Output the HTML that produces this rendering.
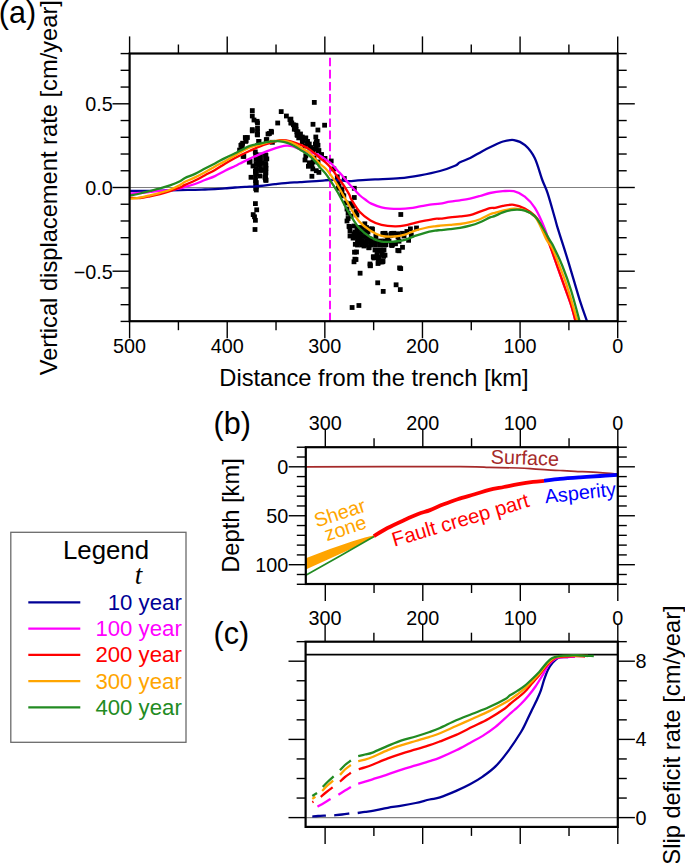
<!DOCTYPE html><html><head><meta charset="utf-8"><style>html,body{margin:0;padding:0;background:#fff;width:685px;height:863px;overflow:hidden}</style></head><body><svg width="685" height="863" viewBox="0 0 685 863" style="position:absolute;left:0;top:0" font-family='"Liberation Sans", sans-serif'>
<rect width="685" height="863" fill="#fff"/>
<defs><clipPath id="clipA"><rect x="129.6" y="53.5" width="488.10" height="267.70"/></clipPath><clipPath id="clipB"><rect x="305.8" y="447.2" width="312.00" height="136.80"/></clipPath><clipPath id="clipC"><rect x="305.6" y="641.7" width="312.20" height="185.20"/></clipPath></defs>
<line x1="129.60" y1="187.50" x2="617.70" y2="187.50" stroke="#7f7f7f" stroke-width="1.2" />
<line x1="617.70" y1="53.50" x2="617.70" y2="36.40" stroke="#000" stroke-width="1.4" />
<line x1="617.70" y1="321.20" x2="617.70" y2="338.30" stroke="#000" stroke-width="1.4" />
<text x="617.70" y="353.30" font-size="19.8" text-anchor="middle" fill="#000" >0</text>
<line x1="568.89" y1="53.50" x2="568.89" y2="44.50" stroke="#000" stroke-width="1.4" />
<line x1="568.89" y1="321.20" x2="568.89" y2="330.20" stroke="#000" stroke-width="1.4" />
<line x1="520.08" y1="53.50" x2="520.08" y2="36.40" stroke="#000" stroke-width="1.4" />
<line x1="520.08" y1="321.20" x2="520.08" y2="338.30" stroke="#000" stroke-width="1.4" />
<text x="520.08" y="353.30" font-size="19.8" text-anchor="middle" fill="#000" >100</text>
<line x1="471.27" y1="53.50" x2="471.27" y2="44.50" stroke="#000" stroke-width="1.4" />
<line x1="471.27" y1="321.20" x2="471.27" y2="330.20" stroke="#000" stroke-width="1.4" />
<line x1="422.46" y1="53.50" x2="422.46" y2="36.40" stroke="#000" stroke-width="1.4" />
<line x1="422.46" y1="321.20" x2="422.46" y2="338.30" stroke="#000" stroke-width="1.4" />
<text x="422.46" y="353.30" font-size="19.8" text-anchor="middle" fill="#000" >200</text>
<line x1="373.65" y1="53.50" x2="373.65" y2="44.50" stroke="#000" stroke-width="1.4" />
<line x1="373.65" y1="321.20" x2="373.65" y2="330.20" stroke="#000" stroke-width="1.4" />
<line x1="324.84" y1="53.50" x2="324.84" y2="36.40" stroke="#000" stroke-width="1.4" />
<line x1="324.84" y1="321.20" x2="324.84" y2="338.30" stroke="#000" stroke-width="1.4" />
<text x="324.84" y="353.30" font-size="19.8" text-anchor="middle" fill="#000" >300</text>
<line x1="276.03" y1="53.50" x2="276.03" y2="44.50" stroke="#000" stroke-width="1.4" />
<line x1="276.03" y1="321.20" x2="276.03" y2="330.20" stroke="#000" stroke-width="1.4" />
<line x1="227.22" y1="53.50" x2="227.22" y2="36.40" stroke="#000" stroke-width="1.4" />
<line x1="227.22" y1="321.20" x2="227.22" y2="338.30" stroke="#000" stroke-width="1.4" />
<text x="227.22" y="353.30" font-size="19.8" text-anchor="middle" fill="#000" >400</text>
<line x1="178.41" y1="53.50" x2="178.41" y2="44.50" stroke="#000" stroke-width="1.4" />
<line x1="178.41" y1="321.20" x2="178.41" y2="330.20" stroke="#000" stroke-width="1.4" />
<line x1="129.60" y1="53.50" x2="129.60" y2="36.40" stroke="#000" stroke-width="1.4" />
<line x1="129.60" y1="321.20" x2="129.60" y2="338.30" stroke="#000" stroke-width="1.4" />
<text x="129.60" y="353.30" font-size="19.8" text-anchor="middle" fill="#000" >500</text>
<line x1="129.60" y1="321.42" x2="120.60" y2="321.42" stroke="#000" stroke-width="1.4" />
<line x1="617.70" y1="321.42" x2="626.70" y2="321.42" stroke="#000" stroke-width="1.4" />
<line x1="129.60" y1="304.68" x2="120.60" y2="304.68" stroke="#000" stroke-width="1.4" />
<line x1="617.70" y1="304.68" x2="626.70" y2="304.68" stroke="#000" stroke-width="1.4" />
<line x1="129.60" y1="287.94" x2="120.60" y2="287.94" stroke="#000" stroke-width="1.4" />
<line x1="617.70" y1="287.94" x2="626.70" y2="287.94" stroke="#000" stroke-width="1.4" />
<line x1="129.60" y1="271.20" x2="112.50" y2="271.20" stroke="#000" stroke-width="1.4" />
<line x1="617.70" y1="271.20" x2="634.80" y2="271.20" stroke="#000" stroke-width="1.4" />
<text x="112.70" y="278.60" font-size="19.8" text-anchor="end" fill="#000" >−0.5</text>
<line x1="129.60" y1="254.46" x2="120.60" y2="254.46" stroke="#000" stroke-width="1.4" />
<line x1="617.70" y1="254.46" x2="626.70" y2="254.46" stroke="#000" stroke-width="1.4" />
<line x1="129.60" y1="237.72" x2="120.60" y2="237.72" stroke="#000" stroke-width="1.4" />
<line x1="617.70" y1="237.72" x2="626.70" y2="237.72" stroke="#000" stroke-width="1.4" />
<line x1="129.60" y1="220.98" x2="120.60" y2="220.98" stroke="#000" stroke-width="1.4" />
<line x1="617.70" y1="220.98" x2="626.70" y2="220.98" stroke="#000" stroke-width="1.4" />
<line x1="129.60" y1="204.24" x2="120.60" y2="204.24" stroke="#000" stroke-width="1.4" />
<line x1="617.70" y1="204.24" x2="626.70" y2="204.24" stroke="#000" stroke-width="1.4" />
<line x1="129.60" y1="187.50" x2="112.50" y2="187.50" stroke="#000" stroke-width="1.4" />
<line x1="617.70" y1="187.50" x2="634.80" y2="187.50" stroke="#000" stroke-width="1.4" />
<text x="112.70" y="194.90" font-size="19.8" text-anchor="end" fill="#000" >0.0</text>
<line x1="129.60" y1="170.76" x2="120.60" y2="170.76" stroke="#000" stroke-width="1.4" />
<line x1="617.70" y1="170.76" x2="626.70" y2="170.76" stroke="#000" stroke-width="1.4" />
<line x1="129.60" y1="154.02" x2="120.60" y2="154.02" stroke="#000" stroke-width="1.4" />
<line x1="617.70" y1="154.02" x2="626.70" y2="154.02" stroke="#000" stroke-width="1.4" />
<line x1="129.60" y1="137.28" x2="120.60" y2="137.28" stroke="#000" stroke-width="1.4" />
<line x1="617.70" y1="137.28" x2="626.70" y2="137.28" stroke="#000" stroke-width="1.4" />
<line x1="129.60" y1="120.54" x2="120.60" y2="120.54" stroke="#000" stroke-width="1.4" />
<line x1="617.70" y1="120.54" x2="626.70" y2="120.54" stroke="#000" stroke-width="1.4" />
<line x1="129.60" y1="103.80" x2="112.50" y2="103.80" stroke="#000" stroke-width="1.4" />
<line x1="617.70" y1="103.80" x2="634.80" y2="103.80" stroke="#000" stroke-width="1.4" />
<text x="112.70" y="111.20" font-size="19.8" text-anchor="end" fill="#000" >0.5</text>
<line x1="129.60" y1="87.06" x2="120.60" y2="87.06" stroke="#000" stroke-width="1.4" />
<line x1="617.70" y1="87.06" x2="626.70" y2="87.06" stroke="#000" stroke-width="1.4" />
<line x1="129.60" y1="70.32" x2="120.60" y2="70.32" stroke="#000" stroke-width="1.4" />
<line x1="617.70" y1="70.32" x2="626.70" y2="70.32" stroke="#000" stroke-width="1.4" />
<line x1="129.60" y1="53.58" x2="120.60" y2="53.58" stroke="#000" stroke-width="1.4" />
<line x1="617.70" y1="53.58" x2="626.70" y2="53.58" stroke="#000" stroke-width="1.4" />
<line x1="617.80" y1="447.20" x2="617.80" y2="430.10" stroke="#000" stroke-width="1.4" />
<line x1="617.80" y1="584.00" x2="617.80" y2="601.10" stroke="#000" stroke-width="1.4" />
<text x="617.80" y="430.10" font-size="19.8" text-anchor="middle" fill="#000" >0</text>
<line x1="569.05" y1="447.20" x2="569.05" y2="438.20" stroke="#000" stroke-width="1.4" />
<line x1="569.05" y1="584.00" x2="569.05" y2="593.00" stroke="#000" stroke-width="1.4" />
<line x1="520.30" y1="447.20" x2="520.30" y2="430.10" stroke="#000" stroke-width="1.4" />
<line x1="520.30" y1="584.00" x2="520.30" y2="601.10" stroke="#000" stroke-width="1.4" />
<text x="520.30" y="430.10" font-size="19.8" text-anchor="middle" fill="#000" >100</text>
<line x1="471.55" y1="447.20" x2="471.55" y2="438.20" stroke="#000" stroke-width="1.4" />
<line x1="471.55" y1="584.00" x2="471.55" y2="593.00" stroke="#000" stroke-width="1.4" />
<line x1="422.80" y1="447.20" x2="422.80" y2="430.10" stroke="#000" stroke-width="1.4" />
<line x1="422.80" y1="584.00" x2="422.80" y2="601.10" stroke="#000" stroke-width="1.4" />
<text x="422.80" y="430.10" font-size="19.8" text-anchor="middle" fill="#000" >200</text>
<line x1="374.05" y1="447.20" x2="374.05" y2="438.20" stroke="#000" stroke-width="1.4" />
<line x1="374.05" y1="584.00" x2="374.05" y2="593.00" stroke="#000" stroke-width="1.4" />
<line x1="325.30" y1="447.20" x2="325.30" y2="430.10" stroke="#000" stroke-width="1.4" />
<line x1="325.30" y1="584.00" x2="325.30" y2="601.10" stroke="#000" stroke-width="1.4" />
<text x="325.30" y="430.10" font-size="19.8" text-anchor="middle" fill="#000" >300</text>
<line x1="305.80" y1="447.22" x2="296.80" y2="447.22" stroke="#000" stroke-width="1.4" />
<line x1="617.80" y1="447.22" x2="626.80" y2="447.22" stroke="#000" stroke-width="1.4" />
<line x1="305.80" y1="457.01" x2="296.80" y2="457.01" stroke="#000" stroke-width="1.4" />
<line x1="617.80" y1="457.01" x2="626.80" y2="457.01" stroke="#000" stroke-width="1.4" />
<line x1="305.80" y1="466.80" x2="288.70" y2="466.80" stroke="#000" stroke-width="1.4" />
<line x1="617.80" y1="466.80" x2="634.90" y2="466.80" stroke="#000" stroke-width="1.4" />
<text x="288.20" y="473.80" font-size="19.8" text-anchor="end" fill="#000" >0</text>
<line x1="305.80" y1="476.59" x2="296.80" y2="476.59" stroke="#000" stroke-width="1.4" />
<line x1="617.80" y1="476.59" x2="626.80" y2="476.59" stroke="#000" stroke-width="1.4" />
<line x1="305.80" y1="486.38" x2="296.80" y2="486.38" stroke="#000" stroke-width="1.4" />
<line x1="617.80" y1="486.38" x2="626.80" y2="486.38" stroke="#000" stroke-width="1.4" />
<line x1="305.80" y1="496.17" x2="296.80" y2="496.17" stroke="#000" stroke-width="1.4" />
<line x1="617.80" y1="496.17" x2="626.80" y2="496.17" stroke="#000" stroke-width="1.4" />
<line x1="305.80" y1="505.96" x2="296.80" y2="505.96" stroke="#000" stroke-width="1.4" />
<line x1="617.80" y1="505.96" x2="626.80" y2="505.96" stroke="#000" stroke-width="1.4" />
<line x1="305.80" y1="515.75" x2="288.70" y2="515.75" stroke="#000" stroke-width="1.4" />
<line x1="617.80" y1="515.75" x2="634.90" y2="515.75" stroke="#000" stroke-width="1.4" />
<text x="288.20" y="522.75" font-size="19.8" text-anchor="end" fill="#000" >50</text>
<line x1="305.80" y1="525.54" x2="296.80" y2="525.54" stroke="#000" stroke-width="1.4" />
<line x1="617.80" y1="525.54" x2="626.80" y2="525.54" stroke="#000" stroke-width="1.4" />
<line x1="305.80" y1="535.33" x2="296.80" y2="535.33" stroke="#000" stroke-width="1.4" />
<line x1="617.80" y1="535.33" x2="626.80" y2="535.33" stroke="#000" stroke-width="1.4" />
<line x1="305.80" y1="545.12" x2="296.80" y2="545.12" stroke="#000" stroke-width="1.4" />
<line x1="617.80" y1="545.12" x2="626.80" y2="545.12" stroke="#000" stroke-width="1.4" />
<line x1="305.80" y1="554.91" x2="296.80" y2="554.91" stroke="#000" stroke-width="1.4" />
<line x1="617.80" y1="554.91" x2="626.80" y2="554.91" stroke="#000" stroke-width="1.4" />
<line x1="305.80" y1="564.70" x2="288.70" y2="564.70" stroke="#000" stroke-width="1.4" />
<line x1="617.80" y1="564.70" x2="634.90" y2="564.70" stroke="#000" stroke-width="1.4" />
<text x="288.20" y="571.70" font-size="19.8" text-anchor="end" fill="#000" >100</text>
<line x1="305.80" y1="574.49" x2="296.80" y2="574.49" stroke="#000" stroke-width="1.4" />
<line x1="617.80" y1="574.49" x2="626.80" y2="574.49" stroke="#000" stroke-width="1.4" />
<line x1="305.80" y1="584.28" x2="296.80" y2="584.28" stroke="#000" stroke-width="1.4" />
<line x1="617.80" y1="584.28" x2="626.80" y2="584.28" stroke="#000" stroke-width="1.4" />
<line x1="617.80" y1="641.70" x2="617.80" y2="624.60" stroke="#000" stroke-width="1.4" />
<line x1="617.80" y1="826.90" x2="617.80" y2="844.00" stroke="#000" stroke-width="1.4" />
<text x="617.80" y="624.60" font-size="19.8" text-anchor="middle" fill="#000" >0</text>
<line x1="569.02" y1="641.70" x2="569.02" y2="632.70" stroke="#000" stroke-width="1.4" />
<line x1="569.02" y1="826.90" x2="569.02" y2="835.90" stroke="#000" stroke-width="1.4" />
<line x1="520.24" y1="641.70" x2="520.24" y2="624.60" stroke="#000" stroke-width="1.4" />
<line x1="520.24" y1="826.90" x2="520.24" y2="844.00" stroke="#000" stroke-width="1.4" />
<text x="520.24" y="624.60" font-size="19.8" text-anchor="middle" fill="#000" >100</text>
<line x1="471.46" y1="641.70" x2="471.46" y2="632.70" stroke="#000" stroke-width="1.4" />
<line x1="471.46" y1="826.90" x2="471.46" y2="835.90" stroke="#000" stroke-width="1.4" />
<line x1="422.68" y1="641.70" x2="422.68" y2="624.60" stroke="#000" stroke-width="1.4" />
<line x1="422.68" y1="826.90" x2="422.68" y2="844.00" stroke="#000" stroke-width="1.4" />
<text x="422.68" y="624.60" font-size="19.8" text-anchor="middle" fill="#000" >200</text>
<line x1="373.89" y1="641.70" x2="373.89" y2="632.70" stroke="#000" stroke-width="1.4" />
<line x1="373.89" y1="826.90" x2="373.89" y2="835.90" stroke="#000" stroke-width="1.4" />
<line x1="325.11" y1="641.70" x2="325.11" y2="624.60" stroke="#000" stroke-width="1.4" />
<line x1="325.11" y1="826.90" x2="325.11" y2="844.00" stroke="#000" stroke-width="1.4" />
<text x="325.11" y="624.60" font-size="19.8" text-anchor="middle" fill="#000" >300</text>
<line x1="305.60" y1="817.60" x2="288.50" y2="817.60" stroke="#000" stroke-width="1.4" />
<line x1="617.80" y1="817.60" x2="634.90" y2="817.60" stroke="#000" stroke-width="1.4" />
<text x="635.40" y="824.60" font-size="19.8" text-anchor="start" fill="#000" >0</text>
<line x1="305.60" y1="798.05" x2="296.60" y2="798.05" stroke="#000" stroke-width="1.4" />
<line x1="617.80" y1="798.05" x2="626.80" y2="798.05" stroke="#000" stroke-width="1.4" />
<line x1="305.60" y1="778.50" x2="296.60" y2="778.50" stroke="#000" stroke-width="1.4" />
<line x1="617.80" y1="778.50" x2="626.80" y2="778.50" stroke="#000" stroke-width="1.4" />
<line x1="305.60" y1="758.95" x2="296.60" y2="758.95" stroke="#000" stroke-width="1.4" />
<line x1="617.80" y1="758.95" x2="626.80" y2="758.95" stroke="#000" stroke-width="1.4" />
<line x1="305.60" y1="739.40" x2="288.50" y2="739.40" stroke="#000" stroke-width="1.4" />
<line x1="617.80" y1="739.40" x2="634.90" y2="739.40" stroke="#000" stroke-width="1.4" />
<text x="635.40" y="746.40" font-size="19.8" text-anchor="start" fill="#000" >4</text>
<line x1="305.60" y1="719.85" x2="296.60" y2="719.85" stroke="#000" stroke-width="1.4" />
<line x1="617.80" y1="719.85" x2="626.80" y2="719.85" stroke="#000" stroke-width="1.4" />
<line x1="305.60" y1="700.30" x2="296.60" y2="700.30" stroke="#000" stroke-width="1.4" />
<line x1="617.80" y1="700.30" x2="626.80" y2="700.30" stroke="#000" stroke-width="1.4" />
<line x1="305.60" y1="680.75" x2="296.60" y2="680.75" stroke="#000" stroke-width="1.4" />
<line x1="617.80" y1="680.75" x2="626.80" y2="680.75" stroke="#000" stroke-width="1.4" />
<line x1="305.60" y1="661.20" x2="288.50" y2="661.20" stroke="#000" stroke-width="1.4" />
<line x1="617.80" y1="661.20" x2="634.90" y2="661.20" stroke="#000" stroke-width="1.4" />
<text x="635.40" y="668.20" font-size="19.8" text-anchor="start" fill="#000" >8</text>
<line x1="305.60" y1="641.65" x2="296.60" y2="641.65" stroke="#000" stroke-width="1.4" />
<line x1="617.80" y1="641.65" x2="626.80" y2="641.65" stroke="#000" stroke-width="1.4" />
<line x1="305.60" y1="817.60" x2="617.80" y2="817.60" stroke="#7f7f7f" stroke-width="1.2" />
<line x1="305.60" y1="654.60" x2="617.80" y2="654.60" stroke="#000" stroke-width="1.9" />
<g clip-path="url(#clipA)">
<line x1="330" y1="53.5" x2="330" y2="321.2" stroke="#ff00ff" stroke-width="1.9" stroke-dasharray="8.6 3.55" stroke-dashoffset="8.0"/>
<g fill="#000"><rect x="249.9" y="108.2" width="4.8" height="4.8"/><rect x="249.9" y="113.6" width="4.8" height="4.8"/><rect x="251.6" y="117.6" width="4.8" height="4.8"/><rect x="254.7" y="118.9" width="4.8" height="4.8"/><rect x="255.1" y="120.6" width="4.8" height="4.8"/><rect x="249.9" y="127.2" width="4.8" height="4.8"/><rect x="255.1" y="125.9" width="4.8" height="4.8"/><rect x="255.1" y="129.4" width="4.8" height="4.8"/><rect x="255.1" y="132.5" width="4.8" height="4.8"/><rect x="242.9" y="135.1" width="4.8" height="4.8"/><rect x="245.0" y="135.1" width="4.8" height="4.8"/><rect x="243.7" y="138.1" width="4.8" height="4.8"/><rect x="240.2" y="140.8" width="4.8" height="4.8"/><rect x="238.5" y="143.0" width="4.8" height="4.8"/><rect x="256.4" y="139.0" width="4.8" height="4.8"/><rect x="263.9" y="137.3" width="4.8" height="4.8"/><rect x="265.6" y="131.6" width="4.8" height="4.8"/><rect x="269.1" y="129.8" width="4.8" height="4.8"/><rect x="275.3" y="120.6" width="4.8" height="4.8"/><rect x="278.8" y="109.2" width="4.8" height="4.8"/><rect x="284.0" y="113.6" width="4.8" height="4.8"/><rect x="287.5" y="117.1" width="4.8" height="4.8"/><rect x="288.4" y="120.6" width="4.8" height="4.8"/><rect x="291.0" y="122.4" width="4.8" height="4.8"/><rect x="293.6" y="123.3" width="4.8" height="4.8"/><rect x="291.9" y="126.8" width="4.8" height="4.8"/><rect x="294.5" y="129.4" width="4.8" height="4.8"/><rect x="295.0" y="132.9" width="4.8" height="4.8"/><rect x="296.3" y="135.5" width="4.8" height="4.8"/><rect x="270.0" y="139.9" width="4.8" height="4.8"/><rect x="252.9" y="149.5" width="4.8" height="4.8"/><rect x="253.4" y="152.2" width="4.8" height="4.8"/><rect x="249.9" y="128.5" width="4.8" height="4.8"/><rect x="254.8" y="132.0" width="4.8" height="4.8"/><rect x="267.0" y="131.1" width="4.8" height="4.8"/><rect x="268.8" y="128.9" width="4.8" height="4.8"/><rect x="243.4" y="139.0" width="4.8" height="4.8"/><rect x="239.0" y="142.5" width="4.8" height="4.8"/><rect x="239.9" y="145.1" width="4.8" height="4.8"/><rect x="237.2" y="147.7" width="4.8" height="4.8"/><rect x="240.7" y="153.9" width="4.8" height="4.8"/><rect x="256.5" y="139.0" width="4.8" height="4.8"/><rect x="264.4" y="137.2" width="4.8" height="4.8"/><rect x="263.5" y="153.0" width="4.8" height="4.8"/><rect x="264.4" y="156.5" width="4.8" height="4.8"/><rect x="247.7" y="159.1" width="4.8" height="4.8"/><rect x="255.6" y="159.1" width="4.8" height="4.8"/><rect x="256.5" y="162.6" width="4.8" height="4.8"/><rect x="263.5" y="162.6" width="4.8" height="4.8"/><rect x="263.6" y="166.1" width="4.8" height="4.8"/><rect x="253.0" y="168.8" width="4.8" height="4.8"/><rect x="253.9" y="171.4" width="4.8" height="4.8"/><rect x="263.5" y="170.5" width="4.8" height="4.8"/><rect x="262.6" y="174.9" width="4.8" height="4.8"/><rect x="263.5" y="177.5" width="4.8" height="4.8"/><rect x="248.6" y="174.9" width="4.8" height="4.8"/><rect x="253.9" y="180.2" width="4.8" height="4.8"/><rect x="253.9" y="184.5" width="4.8" height="4.8"/><rect x="253.9" y="187.6" width="4.8" height="4.8"/><rect x="257.6" y="155.6" width="4.8" height="4.8"/><rect x="259.6" y="167.6" width="4.8" height="4.8"/><rect x="257.6" y="173.6" width="4.8" height="4.8"/><rect x="250.6" y="163.6" width="4.8" height="4.8"/><rect x="259.6" y="160.6" width="4.8" height="4.8"/><rect x="263.5" y="178.0" width="4.8" height="4.8"/><rect x="253.0" y="201.2" width="4.8" height="4.8"/><rect x="254.3" y="207.4" width="4.8" height="4.8"/><rect x="250.8" y="212.2" width="4.8" height="4.8"/><rect x="252.1" y="214.4" width="4.8" height="4.8"/><rect x="253.0" y="217.9" width="4.8" height="4.8"/><rect x="252.6" y="227.1" width="4.8" height="4.8"/><rect x="311.9" y="100.0" width="4.8" height="4.8"/><rect x="310.6" y="121.9" width="4.8" height="4.8"/><rect x="322.2" y="122.8" width="4.8" height="4.8"/><rect x="315.5" y="127.6" width="4.8" height="4.8"/><rect x="288.5" y="116.7" width="4.8" height="4.8"/><rect x="289.4" y="120.6" width="4.8" height="4.8"/><rect x="292.9" y="122.8" width="4.8" height="4.8"/><rect x="293.7" y="127.2" width="4.8" height="4.8"/><rect x="295.5" y="129.4" width="4.8" height="4.8"/><rect x="294.6" y="132.5" width="4.8" height="4.8"/><rect x="298.1" y="131.6" width="4.8" height="4.8"/><rect x="299.9" y="134.6" width="4.8" height="4.8"/><rect x="303.4" y="135.5" width="4.8" height="4.8"/><rect x="300.7" y="138.1" width="4.8" height="4.8"/><rect x="305.1" y="139.0" width="4.8" height="4.8"/><rect x="306.9" y="141.6" width="4.8" height="4.8"/><rect x="308.6" y="145.2" width="4.8" height="4.8"/><rect x="313.4" y="134.6" width="4.8" height="4.8"/><rect x="314.8" y="139.0" width="4.8" height="4.8"/><rect x="313.0" y="141.6" width="4.8" height="4.8"/><rect x="313.9" y="145.2" width="4.8" height="4.8"/><rect x="315.6" y="148.7" width="4.8" height="4.8"/><rect x="319.1" y="152.2" width="4.8" height="4.8"/><rect x="299.9" y="139.4" width="4.8" height="4.8"/><rect x="305.1" y="141.1" width="4.8" height="4.8"/><rect x="313.9" y="139.4" width="4.8" height="4.8"/><rect x="315.6" y="142.9" width="4.8" height="4.8"/><rect x="313.0" y="146.4" width="4.8" height="4.8"/><rect x="316.5" y="148.1" width="4.8" height="4.8"/><rect x="303.4" y="153.4" width="4.8" height="4.8"/><rect x="319.1" y="152.5" width="4.8" height="4.8"/><rect x="322.6" y="156.0" width="4.8" height="4.8"/><rect x="306.9" y="160.4" width="4.8" height="4.8"/><rect x="306.0" y="163.9" width="4.8" height="4.8"/><rect x="309.5" y="163.0" width="4.8" height="4.8"/><rect x="310.4" y="166.5" width="4.8" height="4.8"/><rect x="313.9" y="168.3" width="4.8" height="4.8"/><rect x="316.5" y="170.0" width="4.8" height="4.8"/><rect x="309.5" y="173.9" width="4.8" height="4.8"/><rect x="328.8" y="158.6" width="4.8" height="4.8"/><rect x="331.4" y="166.5" width="4.8" height="4.8"/><rect x="334.9" y="174.4" width="4.8" height="4.8"/><rect x="341.9" y="176.1" width="4.8" height="4.8"/><rect x="335.8" y="179.6" width="4.8" height="4.8"/><rect x="336.6" y="184.0" width="4.8" height="4.8"/><rect x="339.3" y="186.6" width="4.8" height="4.8"/><rect x="340.2" y="192.8" width="4.8" height="4.8"/><rect x="302.6" y="143.6" width="4.8" height="4.8"/><rect x="307.6" y="145.6" width="4.8" height="4.8"/><rect x="310.6" y="147.6" width="4.8" height="4.8"/><rect x="311.6" y="155.6" width="4.8" height="4.8"/><rect x="315.6" y="159.6" width="4.8" height="4.8"/><rect x="310.6" y="159.6" width="4.8" height="4.8"/><rect x="302.6" y="157.6" width="4.8" height="4.8"/><rect x="351.9" y="185.9" width="4.8" height="4.8"/><rect x="351.9" y="195.1" width="4.8" height="4.8"/><rect x="341.4" y="193.4" width="4.8" height="4.8"/><rect x="336.1" y="185.9" width="4.8" height="4.8"/><rect x="348.4" y="201.2" width="4.8" height="4.8"/><rect x="350.1" y="203.9" width="4.8" height="4.8"/><rect x="353.6" y="209.1" width="4.8" height="4.8"/><rect x="354.5" y="212.6" width="4.8" height="4.8"/><rect x="345.7" y="210.9" width="4.8" height="4.8"/><rect x="345.7" y="216.1" width="4.8" height="4.8"/><rect x="346.6" y="224.0" width="4.8" height="4.8"/><rect x="351.6" y="223.6" width="4.8" height="4.8"/><rect x="355.6" y="225.6" width="4.8" height="4.8"/><rect x="352.6" y="229.6" width="4.8" height="4.8"/><rect x="356.6" y="231.6" width="4.8" height="4.8"/><rect x="353.6" y="234.6" width="4.8" height="4.8"/><rect x="357.6" y="236.6" width="4.8" height="4.8"/><rect x="362.4" y="221.4" width="4.8" height="4.8"/><rect x="369.4" y="226.6" width="4.8" height="4.8"/><rect x="380.8" y="231.0" width="4.8" height="4.8"/><rect x="389.5" y="231.0" width="4.8" height="4.8"/><rect x="343.6" y="200.6" width="4.8" height="4.8"/><rect x="339.6" y="189.6" width="4.8" height="4.8"/><rect x="347.2" y="224.4" width="4.8" height="4.8"/><rect x="351.6" y="231.4" width="4.8" height="4.8"/><rect x="350.7" y="235.7" width="4.8" height="4.8"/><rect x="352.9" y="241.9" width="4.8" height="4.8"/><rect x="359.5" y="238.4" width="4.8" height="4.8"/><rect x="363.9" y="240.1" width="4.8" height="4.8"/><rect x="366.5" y="245.4" width="4.8" height="4.8"/><rect x="357.7" y="233.1" width="4.8" height="4.8"/><rect x="363.9" y="234.0" width="4.8" height="4.8"/><rect x="370.0" y="227.0" width="4.8" height="4.8"/><rect x="373.5" y="234.0" width="4.8" height="4.8"/><rect x="372.6" y="241.0" width="4.8" height="4.8"/><rect x="380.5" y="231.4" width="4.8" height="4.8"/><rect x="381.4" y="241.9" width="4.8" height="4.8"/><rect x="389.3" y="231.4" width="4.8" height="4.8"/><rect x="390.2" y="241.9" width="4.8" height="4.8"/><rect x="395.4" y="231.4" width="4.8" height="4.8"/><rect x="395.4" y="248.0" width="4.8" height="4.8"/><rect x="352.1" y="249.8" width="4.8" height="4.8"/><rect x="352.5" y="256.8" width="4.8" height="4.8"/><rect x="351.6" y="259.4" width="4.8" height="4.8"/><rect x="370.9" y="254.6" width="4.8" height="4.8"/><rect x="375.3" y="248.0" width="4.8" height="4.8"/><rect x="378.8" y="248.9" width="4.8" height="4.8"/><rect x="380.5" y="252.4" width="4.8" height="4.8"/><rect x="376.1" y="255.9" width="4.8" height="4.8"/><rect x="377.9" y="259.4" width="4.8" height="4.8"/><rect x="380.5" y="258.5" width="4.8" height="4.8"/><rect x="367.8" y="263.3" width="4.8" height="4.8"/><rect x="357.7" y="270.8" width="4.8" height="4.8"/><rect x="375.3" y="280.4" width="4.8" height="4.8"/><rect x="393.7" y="282.4" width="4.8" height="4.8"/><rect x="397.2" y="265.5" width="4.8" height="4.8"/><rect x="347.6" y="228.6" width="4.8" height="4.8"/><rect x="354.6" y="227.6" width="4.8" height="4.8"/><rect x="360.6" y="229.6" width="4.8" height="4.8"/><rect x="347.6" y="233.6" width="4.8" height="4.8"/><rect x="355.6" y="240.6" width="4.8" height="4.8"/><rect x="361.6" y="243.6" width="4.8" height="4.8"/><rect x="367.6" y="236.6" width="4.8" height="4.8"/><rect x="365.6" y="229.6" width="4.8" height="4.8"/><rect x="344.6" y="206.6" width="4.8" height="4.8"/><rect x="344.6" y="218.6" width="4.8" height="4.8"/><rect x="348.6" y="213.6" width="4.8" height="4.8"/><rect x="398.4" y="212.1" width="4.8" height="4.8"/><rect x="382.6" y="230.9" width="4.8" height="4.8"/><rect x="388.7" y="231.8" width="4.8" height="4.8"/><rect x="391.4" y="230.9" width="4.8" height="4.8"/><rect x="385.2" y="236.1" width="4.8" height="4.8"/><rect x="383.5" y="242.3" width="4.8" height="4.8"/><rect x="389.6" y="243.1" width="4.8" height="4.8"/><rect x="393.1" y="241.4" width="4.8" height="4.8"/><rect x="396.6" y="238.8" width="4.8" height="4.8"/><rect x="400.1" y="230.9" width="4.8" height="4.8"/><rect x="404.5" y="229.1" width="4.8" height="4.8"/><rect x="408.0" y="226.5" width="4.8" height="4.8"/><rect x="414.1" y="225.6" width="4.8" height="4.8"/><rect x="406.2" y="237.9" width="4.8" height="4.8"/><rect x="400.1" y="244.9" width="4.8" height="4.8"/><rect x="396.6" y="248.4" width="4.8" height="4.8"/><rect x="382.6" y="252.8" width="4.8" height="4.8"/><rect x="408.9" y="232.6" width="4.8" height="4.8"/><rect x="395.6" y="234.6" width="4.8" height="4.8"/><rect x="401.6" y="233.6" width="4.8" height="4.8"/><rect x="386.6" y="238.6" width="4.8" height="4.8"/><rect x="371.2" y="254.4" width="4.8" height="4.8"/><rect x="376.4" y="254.4" width="4.8" height="4.8"/><rect x="355.1" y="225.1" width="4.8" height="4.8"/><rect x="359.6" y="225.1" width="4.8" height="4.8"/><rect x="364.1" y="225.1" width="4.8" height="4.8"/><rect x="355.1" y="229.6" width="4.8" height="4.8"/><rect x="359.6" y="229.6" width="4.8" height="4.8"/><rect x="364.1" y="229.6" width="4.8" height="4.8"/><rect x="355.1" y="234.1" width="4.8" height="4.8"/><rect x="359.6" y="234.1" width="4.8" height="4.8"/><rect x="364.1" y="234.1" width="4.8" height="4.8"/><rect x="355.1" y="238.6" width="4.8" height="4.8"/><rect x="359.6" y="238.6" width="4.8" height="4.8"/><rect x="364.1" y="238.6" width="4.8" height="4.8"/><rect x="355.1" y="242.6" width="4.8" height="4.8"/><rect x="359.6" y="242.6" width="4.8" height="4.8"/><rect x="364.1" y="242.6" width="4.8" height="4.8"/><rect x="368.6" y="238.6" width="4.8" height="4.8"/><rect x="373.1" y="238.6" width="4.8" height="4.8"/><rect x="377.6" y="238.6" width="4.8" height="4.8"/><rect x="382.1" y="238.6" width="4.8" height="4.8"/><rect x="368.6" y="242.6" width="4.8" height="4.8"/><rect x="373.1" y="242.6" width="4.8" height="4.8"/><rect x="377.6" y="242.6" width="4.8" height="4.8"/><rect x="382.1" y="242.6" width="4.8" height="4.8"/><rect x="366.6" y="226.6" width="4.8" height="4.8"/><rect x="369.6" y="226.6" width="4.8" height="4.8"/><rect x="372.6" y="247.6" width="4.8" height="4.8"/><rect x="377.6" y="247.6" width="4.8" height="4.8"/><rect x="381.6" y="247.6" width="4.8" height="4.8"/><rect x="374.6" y="252.1" width="4.8" height="4.8"/><rect x="379.6" y="252.1" width="4.8" height="4.8"/><rect x="371.6" y="255.6" width="4.8" height="4.8"/><rect x="376.1" y="256.6" width="4.8" height="4.8"/><rect x="379.6" y="259.6" width="4.8" height="4.8"/><rect x="375.6" y="261.1" width="4.8" height="4.8"/><rect x="354.1" y="249.6" width="4.8" height="4.8"/><rect x="353.6" y="257.1" width="4.8" height="4.8"/><rect x="367.6" y="261.6" width="4.8" height="4.8"/><rect x="366.6" y="245.1" width="4.8" height="4.8"/><rect x="389.1" y="242.6" width="4.8" height="4.8"/><rect x="388.6" y="233.1" width="4.8" height="4.8"/><rect x="383.6" y="232.6" width="4.8" height="4.8"/><rect x="253.6" y="152.6" width="4.8" height="4.8"/><rect x="258.1" y="152.6" width="4.8" height="4.8"/><rect x="263.1" y="152.6" width="4.8" height="4.8"/><rect x="253.6" y="157.1" width="4.8" height="4.8"/><rect x="258.1" y="157.1" width="4.8" height="4.8"/><rect x="263.1" y="157.1" width="4.8" height="4.8"/><rect x="253.6" y="161.6" width="4.8" height="4.8"/><rect x="258.1" y="161.6" width="4.8" height="4.8"/><rect x="263.1" y="161.6" width="4.8" height="4.8"/><rect x="253.6" y="166.1" width="4.8" height="4.8"/><rect x="258.1" y="166.1" width="4.8" height="4.8"/><rect x="263.1" y="166.1" width="4.8" height="4.8"/><rect x="253.1" y="169.6" width="4.8" height="4.8"/><rect x="253.1" y="174.1" width="4.8" height="4.8"/><rect x="253.1" y="178.1" width="4.8" height="4.8"/><rect x="263.1" y="169.6" width="4.8" height="4.8"/><rect x="263.1" y="174.1" width="4.8" height="4.8"/><rect x="263.1" y="176.6" width="4.8" height="4.8"/><rect x="258.1" y="168.1" width="4.8" height="4.8"/><rect x="253.3" y="181.6" width="4.8" height="4.8"/><rect x="253.3" y="186.1" width="4.8" height="4.8"/><rect x="246.9" y="159.8" width="4.8" height="4.8"/><rect x="241.4" y="154.0" width="4.8" height="4.8"/><rect x="381.2" y="253.9" width="4.8" height="4.8"/><rect x="376.4" y="259.6" width="4.8" height="4.8"/><rect x="380.4" y="259.2" width="4.8" height="4.8"/><rect x="367.9" y="263.3" width="4.8" height="4.8"/><rect x="398.3" y="266.2" width="4.8" height="4.8"/><rect x="380.8" y="289.0" width="4.8" height="4.8"/><rect x="397.9" y="287.2" width="4.8" height="4.8"/><rect x="356.5" y="303.1" width="4.8" height="4.8"/><rect x="349.7" y="305.1" width="4.8" height="4.8"/></g>
<path d="M130.00,191.00 C131.67,190.97 136.67,190.83 140.00,190.80 C143.33,190.77 146.67,190.82 150.00,190.80 C153.33,190.78 156.67,190.78 160.00,190.70 C163.33,190.62 166.67,190.42 170.00,190.30 C173.33,190.18 175.83,190.08 180.00,190.00 C184.17,189.92 190.83,189.88 195.00,189.80 C199.17,189.72 201.67,189.60 205.00,189.50 C208.33,189.40 211.67,189.38 215.00,189.20 C218.33,189.02 221.67,188.68 225.00,188.40 C228.33,188.12 231.67,187.75 235.00,187.50 C238.33,187.25 240.83,187.15 245.00,186.90 C249.17,186.65 255.00,186.45 260.00,186.00 C265.00,185.55 270.00,184.77 275.00,184.20 C280.00,183.63 285.83,182.93 290.00,182.60 C294.17,182.27 294.17,182.58 300.00,182.20 C305.83,181.82 319.00,180.67 325.00,180.30 C331.00,179.93 332.00,179.85 336.00,180.00 C340.00,180.15 345.33,181.15 349.00,181.20 C352.67,181.25 353.67,180.60 358.00,180.30 C362.33,180.00 368.00,179.75 375.00,179.40 C382.00,179.05 392.50,178.88 400.00,178.20 C407.50,177.52 413.33,176.50 420.00,175.30 C426.67,174.10 434.17,172.58 440.00,171.00 C445.83,169.42 451.67,167.25 455.00,165.80 C458.33,164.35 457.47,163.60 460.00,162.30 C462.53,161.00 466.55,159.82 470.20,158.00 C473.85,156.18 478.25,153.35 481.90,151.40 C485.55,149.45 488.57,147.95 492.10,146.30 C495.63,144.65 499.45,142.53 503.10,141.50 C506.75,140.47 510.35,139.50 514.00,140.10 C517.65,140.70 521.55,142.12 525.00,145.10 C528.45,148.08 531.82,152.18 534.70,158.00 C537.58,163.82 540.15,174.15 542.30,180.00 C544.45,185.85 545.48,186.68 547.60,193.10 C549.72,199.52 553.27,212.48 555.00,218.50 C556.73,224.52 555.80,222.07 558.00,229.20 C560.20,236.33 564.55,249.38 568.20,261.30 C571.85,273.22 576.70,290.55 579.90,300.70 C583.10,310.85 586.15,318.62 587.40,322.20" fill="none" stroke="#000096" stroke-width="2.3" stroke-linejoin="round" />
<path d="M130.00,193.50 C131.67,193.42 136.67,193.27 140.00,193.00 C143.33,192.73 146.67,192.27 150.00,191.90 C153.33,191.53 156.67,191.10 160.00,190.80 C163.33,190.50 166.67,190.50 170.00,190.10 C173.33,189.70 177.50,188.92 180.00,188.40 C182.50,187.88 182.50,187.73 185.00,187.00 C187.50,186.27 191.67,185.17 195.00,184.00 C198.33,182.83 201.67,181.32 205.00,180.00 C208.33,178.68 211.67,177.63 215.00,176.10 C218.33,174.57 221.67,172.48 225.00,170.80 C228.33,169.12 232.50,167.22 235.00,166.00 C237.50,164.78 237.50,164.73 240.00,163.50 C242.50,162.27 246.67,160.17 250.00,158.60 C253.33,157.03 256.67,155.52 260.00,154.10 C263.33,152.68 266.67,151.32 270.00,150.10 C273.33,148.88 277.17,147.55 280.00,146.80 C282.83,146.05 284.83,145.65 287.00,145.60 C289.17,145.55 290.52,145.73 293.00,146.50 C295.48,147.27 299.23,149.23 301.90,150.20 C304.57,151.17 306.57,151.67 309.00,152.30 C311.43,152.93 314.67,153.42 316.50,154.00 C318.33,154.58 318.45,154.87 320.00,155.80 C321.55,156.73 323.85,158.23 325.80,159.60 C327.75,160.97 329.75,162.20 331.70,164.00 C333.65,165.80 335.55,168.25 337.50,170.40 C339.45,172.55 341.45,174.65 343.40,176.90 C345.35,179.15 347.27,181.67 349.20,183.90 C351.13,186.13 353.20,188.37 355.00,190.30 C356.80,192.23 358.18,193.88 360.00,195.50 C361.82,197.12 364.02,198.65 365.90,200.00 C367.78,201.35 368.70,202.38 371.30,203.60 C373.90,204.82 378.38,206.47 381.50,207.30 C384.62,208.13 386.92,208.33 390.00,208.60 C393.08,208.87 396.67,208.97 400.00,208.90 C403.33,208.83 406.67,208.62 410.00,208.20 C413.33,207.78 416.67,207.00 420.00,206.40 C423.33,205.80 426.67,205.07 430.00,204.60 C433.33,204.13 436.67,204.10 440.00,203.60 C443.33,203.10 446.67,202.15 450.00,201.60 C453.33,201.05 456.67,200.80 460.00,200.30 C463.33,199.80 466.67,199.32 470.00,198.60 C473.33,197.88 476.67,196.93 480.00,196.00 C483.33,195.07 486.18,193.80 490.00,193.00 C493.82,192.20 498.93,191.50 502.90,191.20 C506.87,190.90 510.15,190.30 513.80,191.20 C517.45,192.10 521.28,193.82 524.80,196.60 C528.32,199.38 531.55,202.50 534.90,207.90 C538.25,213.30 542.15,222.05 544.90,229.00 C547.65,235.95 548.25,240.32 551.40,249.60 C554.55,258.88 560.52,275.45 563.80,284.70 C567.08,293.95 569.10,298.85 571.10,305.10 C573.10,311.35 575.02,319.35 575.80,322.20" fill="none" stroke="#ff00ff" stroke-width="2.3" stroke-linejoin="round" />
<path d="M130.00,197.90 C131.67,197.92 136.67,198.27 140.00,198.00 C143.33,197.73 146.67,196.95 150.00,196.30 C153.33,195.65 156.67,194.95 160.00,194.10 C163.33,193.25 166.67,192.30 170.00,191.20 C173.33,190.10 177.50,188.55 180.00,187.50 C182.50,186.45 182.50,186.07 185.00,184.90 C187.50,183.73 191.67,182.12 195.00,180.50 C198.33,178.88 201.67,176.95 205.00,175.20 C208.33,173.45 211.67,171.90 215.00,170.00 C218.33,168.10 221.67,165.78 225.00,163.80 C228.33,161.82 232.50,159.48 235.00,158.10 C237.50,156.72 237.50,156.72 240.00,155.50 C242.50,154.28 246.67,152.32 250.00,150.80 C253.33,149.28 256.67,147.68 260.00,146.40 C263.33,145.12 266.67,144.13 270.00,143.10 C273.33,142.07 277.12,140.60 280.00,140.20 C282.88,139.80 284.87,140.32 287.30,140.70 C289.73,141.08 292.17,141.72 294.60,142.50 C297.03,143.28 299.47,144.30 301.90,145.40 C304.33,146.50 306.77,147.50 309.20,149.10 C311.63,150.70 314.70,153.48 316.50,155.00 C318.30,156.52 318.45,156.93 320.00,158.20 C321.55,159.47 323.85,160.85 325.80,162.60 C327.75,164.35 329.75,166.32 331.70,168.70 C333.65,171.08 335.55,174.18 337.50,176.90 C339.45,179.62 341.45,182.08 343.40,185.00 C345.35,187.92 347.88,192.02 349.20,194.40 C350.52,196.78 349.57,196.42 351.30,199.30 C353.03,202.18 356.40,208.18 359.60,211.70 C362.80,215.22 366.85,218.22 370.50,220.40 C374.15,222.58 377.42,223.82 381.50,224.80 C385.58,225.78 391.08,226.20 395.00,226.30 C398.92,226.40 401.67,225.98 405.00,225.40 C408.33,224.82 411.67,223.60 415.00,222.80 C418.33,222.00 421.67,221.27 425.00,220.60 C428.33,219.93 432.50,219.12 435.00,218.80 C437.50,218.48 437.50,218.93 440.00,218.70 C442.50,218.47 446.67,217.78 450.00,217.40 C453.33,217.02 456.67,216.77 460.00,216.40 C463.33,216.03 466.67,215.98 470.00,215.20 C473.33,214.42 476.67,212.87 480.00,211.70 C483.33,210.53 487.50,208.83 490.00,208.20 C492.50,207.57 492.85,208.30 495.00,207.90 C497.15,207.50 499.77,206.32 502.90,205.80 C506.03,205.28 510.15,204.35 513.80,204.80 C517.45,205.25 521.28,206.65 524.80,208.50 C528.32,210.35 532.13,213.07 534.90,215.90 C537.67,218.73 539.28,221.48 541.40,225.50 C543.52,229.52 545.93,235.98 547.60,240.00 C549.27,244.02 548.70,242.15 551.40,249.60 C554.10,257.05 560.52,275.45 563.80,284.70 C567.08,293.95 569.10,298.85 571.10,305.10 C573.10,311.35 575.02,319.35 575.80,322.20" fill="none" stroke="#ff0000" stroke-width="2.3" stroke-linejoin="round" />
<path d="M130.00,198.70 C131.67,198.52 136.67,198.15 140.00,197.60 C143.33,197.05 146.67,196.20 150.00,195.40 C153.33,194.60 156.67,193.75 160.00,192.80 C163.33,191.85 166.67,191.02 170.00,189.70 C173.33,188.38 177.50,186.22 180.00,184.90 C182.50,183.58 182.50,183.05 185.00,181.80 C187.50,180.55 191.67,179.00 195.00,177.40 C198.33,175.80 201.67,174.02 205.00,172.20 C208.33,170.38 211.67,168.33 215.00,166.50 C218.33,164.67 221.67,163.03 225.00,161.20 C228.33,159.37 232.50,156.93 235.00,155.50 C237.50,154.07 237.50,153.93 240.00,152.60 C242.50,151.27 246.67,148.83 250.00,147.50 C253.33,146.17 256.67,145.57 260.00,144.60 C263.33,143.63 266.67,142.37 270.00,141.70 C273.33,141.03 277.12,140.65 280.00,140.60 C282.88,140.55 284.87,140.83 287.30,141.40 C289.73,141.97 292.17,142.83 294.60,144.00 C297.03,145.17 299.47,146.95 301.90,148.40 C304.33,149.85 306.77,150.68 309.20,152.70 C311.63,154.72 314.70,158.62 316.50,160.50 C318.30,162.38 318.45,162.63 320.00,164.00 C321.55,165.37 323.85,166.65 325.80,168.70 C327.75,170.75 329.75,173.58 331.70,176.30 C333.65,179.02 335.55,181.80 337.50,185.00 C339.45,188.20 341.83,192.75 343.40,195.50 C344.97,198.25 345.42,198.93 346.90,201.50 C348.38,204.07 350.18,207.50 352.30,210.90 C354.42,214.30 356.57,218.60 359.60,221.90 C362.63,225.20 366.85,228.38 370.50,230.70 C374.15,233.02 377.42,234.83 381.50,235.80 C385.58,236.77 391.08,236.70 395.00,236.50 C398.92,236.30 401.67,235.57 405.00,234.60 C408.33,233.63 411.67,231.80 415.00,230.70 C418.33,229.60 421.67,228.73 425.00,228.00 C428.33,227.27 432.50,226.68 435.00,226.30 C437.50,225.92 437.50,225.93 440.00,225.70 C442.50,225.47 446.67,225.18 450.00,224.90 C453.33,224.62 456.67,224.45 460.00,224.00 C463.33,223.55 466.67,223.00 470.00,222.20 C473.33,221.40 476.67,220.52 480.00,219.20 C483.33,217.88 487.50,215.37 490.00,214.30 C492.50,213.23 492.85,213.40 495.00,212.80 C497.15,212.20 499.77,211.38 502.90,210.70 C506.03,210.02 510.15,208.78 513.80,208.70 C517.45,208.62 521.28,208.85 524.80,210.20 C528.32,211.55 532.28,214.10 534.90,216.80 C537.52,219.50 538.53,222.53 540.50,226.40 C542.47,230.27 544.70,236.32 546.70,240.00 C548.70,243.68 550.37,244.17 552.50,248.50 C554.63,252.83 557.17,259.97 559.50,266.00 C561.83,272.03 563.45,275.33 566.50,284.70 C569.55,294.07 575.92,315.95 577.80,322.20" fill="none" stroke="#ffa500" stroke-width="2.3" stroke-linejoin="round" />
<path d="M130.00,195.40 C131.67,195.08 136.67,194.23 140.00,193.50 C143.33,192.77 146.67,191.85 150.00,191.00 C153.33,190.15 156.67,189.35 160.00,188.40 C163.33,187.45 166.67,186.50 170.00,185.30 C173.33,184.10 177.50,182.42 180.00,181.20 C182.50,179.98 182.50,179.22 185.00,178.00 C187.50,176.78 191.67,175.47 195.00,173.90 C198.33,172.33 201.67,170.35 205.00,168.60 C208.33,166.85 211.67,165.15 215.00,163.40 C218.33,161.65 221.67,159.78 225.00,158.10 C228.33,156.42 232.50,154.52 235.00,153.30 C237.50,152.08 237.50,152.03 240.00,150.80 C242.50,149.57 246.67,147.12 250.00,145.90 C253.33,144.68 256.67,144.20 260.00,143.50 C263.33,142.80 266.67,142.07 270.00,141.70 C273.33,141.33 277.12,141.10 280.00,141.30 C282.88,141.50 284.87,142.08 287.30,142.90 C289.73,143.72 292.17,144.87 294.60,146.20 C297.03,147.53 299.47,149.32 301.90,150.90 C304.33,152.48 306.77,153.68 309.20,155.70 C311.63,157.72 314.70,161.03 316.50,163.00 C318.30,164.97 318.45,165.68 320.00,167.50 C321.55,169.32 323.85,171.37 325.80,173.90 C327.75,176.43 329.75,179.68 331.70,182.70 C333.65,185.72 335.85,189.20 337.50,192.00 C339.15,194.80 340.28,197.07 341.60,199.50 C342.92,201.93 343.62,203.48 345.40,206.60 C347.18,209.72 349.93,214.55 352.30,218.20 C354.67,221.85 356.57,225.33 359.60,228.50 C362.63,231.67 366.85,235.02 370.50,237.20 C374.15,239.38 377.42,240.88 381.50,241.60 C385.58,242.32 391.08,241.78 395.00,241.50 C398.92,241.22 401.67,240.83 405.00,239.90 C408.33,238.97 411.67,237.08 415.00,235.90 C418.33,234.72 421.67,233.67 425.00,232.80 C428.33,231.93 432.50,231.15 435.00,230.70 C437.50,230.25 437.50,230.35 440.00,230.10 C442.50,229.85 446.67,229.57 450.00,229.20 C453.33,228.83 456.67,228.48 460.00,227.90 C463.33,227.32 466.67,226.65 470.00,225.70 C473.33,224.75 476.67,223.58 480.00,222.20 C483.33,220.82 487.50,218.45 490.00,217.40 C492.50,216.35 492.85,216.73 495.00,215.90 C497.15,215.07 499.77,213.42 502.90,212.40 C506.03,211.38 510.15,210.08 513.80,209.80 C517.45,209.52 521.28,209.62 524.80,210.70 C528.32,211.78 532.13,213.83 534.90,216.30 C537.67,218.77 538.93,221.55 541.40,225.50 C543.87,229.45 547.67,236.47 549.70,240.00 C551.73,243.53 551.50,242.42 553.60,246.70 C555.70,250.98 559.38,258.40 562.30,265.70 C565.22,273.00 568.17,281.08 571.10,290.50 C574.03,299.92 578.43,316.92 579.90,322.20" fill="none" stroke="#228b22" stroke-width="2.3" stroke-linejoin="round" />
</g>
<g clip-path="url(#clipB)">
<path d="M305.80,466.80 C331.50,466.77 429.43,466.52 460.00,466.60 C490.57,466.68 479.47,467.07 489.20,467.30 C498.93,467.53 511.10,467.75 518.40,468.00 C525.70,468.25 528.13,468.48 533.00,468.80 C537.87,469.12 543.10,469.62 547.60,469.90 C552.10,470.18 555.43,470.27 560.00,470.50 C564.57,470.73 568.33,470.95 575.00,471.30 C581.67,471.65 592.87,472.12 600.00,472.60 C607.13,473.08 614.83,473.93 617.80,474.20" fill="none" stroke="#a52a2a" stroke-width="1.7" stroke-linejoin="round" />
<polygon points="305.8,558.2 330.0,549.0 352.6,541.2 365.0,537.6 374.2,535.3 374.2,537.6 365.0,541.5 352.6,548.2 330.0,558.6 305.8,569.4" fill="#ffa500"/>
<polyline points="305.8,575.2 340.0,556.0 374.0,536.6" fill="none" stroke="#228b22" stroke-width="1.7" stroke-linejoin="round" />
<path d="M373.80,536.20 C376.08,534.83 382.30,530.75 387.50,528.00 C392.70,525.25 399.88,522.03 405.00,519.70 C410.12,517.37 414.03,515.60 418.20,514.00 C422.37,512.40 425.87,511.67 430.00,510.10 C434.13,508.53 438.40,506.42 443.00,504.60 C447.60,502.78 452.33,500.92 457.60,499.20 C462.87,497.48 469.33,495.85 474.60,494.30 C479.87,492.75 484.33,491.12 489.20,489.90 C494.07,488.68 498.93,487.97 503.80,487.00 C508.67,486.03 513.53,484.95 518.40,484.10 C523.27,483.25 528.73,482.43 533.00,481.90 C537.27,481.37 542.17,481.07 544.00,480.90" fill="none" stroke="#ff0000" stroke-width="3.8" stroke-linejoin="round" stroke-linecap="butt"/>
<path d="M544.00,480.90 C546.67,480.57 554.00,479.50 560.00,478.90 C566.00,478.30 573.33,477.78 580.00,477.30 C586.67,476.82 593.70,476.42 600.00,476.00 C606.30,475.58 614.83,475.00 617.80,474.80" fill="none" stroke="#0000ff" stroke-width="3.8" stroke-linejoin="round" stroke-linecap="butt"/>
</g>
<g clip-path="url(#clipC)">
<path d="M312.30,816.60 C313.25,816.50 315.73,816.17 318.00,816.00 C320.27,815.83 324.58,815.67 325.90,815.60" fill="none" stroke="#000096" stroke-width="2.3" stroke-linejoin="round" stroke-linecap="butt"/>
<path d="M334.20,815.40 C335.50,815.25 339.48,814.82 342.00,814.50 C344.52,814.18 348.08,813.67 349.30,813.50" fill="none" stroke="#000096" stroke-width="2.3" stroke-linejoin="round" stroke-linecap="butt"/>
<path d="M357.70,813.00 C358.92,812.82 362.30,812.30 365.00,811.90 C367.70,811.50 370.10,811.28 373.90,810.60 C377.70,809.92 383.17,808.62 387.80,807.80 C392.43,806.98 397.05,806.50 401.70,805.70 C406.35,804.90 411.05,804.03 415.70,803.00 C420.35,801.97 425.55,800.43 429.60,799.50 C433.65,798.57 435.57,798.83 440.00,797.40 C444.43,795.97 451.20,793.08 456.20,790.90 C461.20,788.72 465.58,786.68 470.00,784.30 C474.42,781.92 478.45,779.58 482.70,776.60 C486.95,773.62 491.25,770.65 495.50,766.40 C499.75,762.15 503.95,756.83 508.20,751.10 C512.45,745.37 518.00,736.85 521.00,732.00 C524.00,727.15 524.38,725.67 526.20,722.00 C528.02,718.33 530.22,713.48 531.90,710.00 C533.58,706.52 534.83,704.28 536.30,701.10 C537.77,697.92 539.37,694.55 540.70,690.90 C542.03,687.25 543.08,682.73 544.30,679.20 C545.52,675.67 546.67,672.38 548.00,669.70 C549.33,667.02 550.85,664.92 552.30,663.10 C553.75,661.28 555.42,659.77 556.70,658.80 C557.98,657.83 558.12,657.57 560.00,657.30 C561.88,657.03 566.67,657.22 568.00,657.20" fill="none" stroke="#000096" stroke-width="2.3" stroke-linejoin="round" stroke-linecap="butt"/>
<path d="M317.50,806.70 C318.58,806.08 321.82,804.30 324.00,803.00 C326.18,801.70 329.50,799.58 330.60,798.90" fill="none" stroke="#ff00ff" stroke-width="2.3" stroke-linejoin="round" stroke-linecap="butt"/>
<path d="M338.40,794.70 C339.50,794.00 342.92,791.80 345.00,790.50 C347.08,789.20 349.92,787.50 350.90,786.90" fill="none" stroke="#ff00ff" stroke-width="2.3" stroke-linejoin="round" stroke-linecap="butt"/>
<path d="M358.20,783.70 C359.33,783.37 362.62,782.43 365.00,781.70 C367.38,780.97 368.70,780.52 372.50,779.30 C376.30,778.08 382.93,776.02 387.80,774.40 C392.67,772.78 397.05,771.10 401.70,769.60 C406.35,768.10 411.05,766.80 415.70,765.40 C420.35,764.00 425.55,762.50 429.60,761.20 C433.65,759.90 435.57,759.42 440.00,757.60 C444.43,755.78 451.20,752.75 456.20,750.30 C461.20,747.85 465.58,745.30 470.00,742.90 C474.42,740.50 478.45,738.57 482.70,735.90 C486.95,733.23 491.25,730.30 495.50,726.90 C499.75,723.50 505.05,718.32 508.20,715.50 C511.35,712.68 512.28,711.92 514.40,710.00 C516.52,708.08 518.60,706.33 520.90,704.00 C523.20,701.67 525.77,698.92 528.20,696.00 C530.63,693.08 533.07,690.03 535.50,686.50 C537.93,682.97 540.60,678.45 542.80,674.80 C545.00,671.15 546.62,667.27 548.70,664.60 C550.78,661.93 553.42,660.02 555.30,658.80 C557.18,657.58 557.88,657.60 560.00,657.30 C562.12,657.00 565.50,657.08 568.00,657.00 C570.50,656.92 573.83,656.83 575.00,656.80" fill="none" stroke="#ff00ff" stroke-width="2.3" stroke-linejoin="round" stroke-linecap="butt"/>
<path d="M312.30,802.20 L313.50,801.60" fill="none" stroke="#ff0000" stroke-width="2.3" stroke-linejoin="round" stroke-linecap="butt"/>
<path d="M320.70,796.80 C321.67,796.00 324.50,793.57 326.50,792.00 C328.50,790.43 331.67,788.17 332.70,787.40" fill="none" stroke="#ff0000" stroke-width="2.3" stroke-linejoin="round" stroke-linecap="butt"/>
<path d="M340.00,781.70 C340.83,780.92 343.18,778.48 345.00,777.00 C346.82,775.52 349.92,773.50 350.90,772.80" fill="none" stroke="#ff0000" stroke-width="2.3" stroke-linejoin="round" stroke-linecap="butt"/>
<path d="M358.70,769.10 C359.75,768.82 362.70,768.13 365.00,767.40 C367.30,766.67 368.70,766.20 372.50,764.70 C376.30,763.20 382.93,760.25 387.80,758.40 C392.67,756.55 397.05,755.10 401.70,753.60 C406.35,752.10 411.05,750.80 415.70,749.40 C420.35,748.00 425.55,746.53 429.60,745.20 C433.65,743.87 435.57,743.12 440.00,741.40 C444.43,739.68 450.78,737.33 456.20,734.90 C461.62,732.47 467.08,729.50 472.50,726.80 C477.92,724.10 483.30,721.75 488.70,718.70 C494.10,715.65 501.35,710.95 504.90,708.50 C508.45,706.05 507.93,705.72 510.00,704.00 C512.07,702.28 514.87,700.20 517.30,698.20 C519.73,696.20 522.17,694.43 524.60,692.00 C527.03,689.57 529.47,686.40 531.90,683.60 C534.33,680.80 536.77,678.18 539.20,675.20 C541.63,672.22 544.07,668.43 546.50,665.70 C548.93,662.97 551.88,660.25 553.80,658.80 C555.72,657.35 554.47,657.47 558.00,657.00 C561.53,656.53 570.50,656.08 575.00,656.00 C579.50,655.92 583.33,656.42 585.00,656.50" fill="none" stroke="#ff0000" stroke-width="2.3" stroke-linejoin="round" stroke-linecap="butt"/>
<path d="M312.30,798.90 L315.40,796.80" fill="none" stroke="#ffa500" stroke-width="2.3" stroke-linejoin="round" stroke-linecap="butt"/>
<path d="M322.20,791.00 C323.08,790.08 325.67,787.23 327.50,785.50 C329.33,783.77 332.25,781.42 333.20,780.60" fill="none" stroke="#ffa500" stroke-width="2.3" stroke-linejoin="round" stroke-linecap="butt"/>
<path d="M340.00,774.90 C340.83,774.00 343.18,771.15 345.00,769.50 C346.82,767.85 349.92,765.75 350.90,765.00" fill="none" stroke="#ffa500" stroke-width="2.3" stroke-linejoin="round" stroke-linecap="butt"/>
<path d="M358.20,761.10 C359.33,760.87 362.62,760.38 365.00,759.70 C367.38,759.02 368.70,758.60 372.50,757.00 C376.30,755.40 382.93,752.07 387.80,750.10 C392.67,748.13 397.05,746.72 401.70,745.20 C406.35,743.68 411.05,742.38 415.70,741.00 C420.35,739.62 425.55,738.18 429.60,736.90 C433.65,735.62 435.57,735.12 440.00,733.30 C444.43,731.48 450.78,728.43 456.20,726.00 C461.62,723.57 467.08,721.13 472.50,718.70 C477.92,716.27 483.30,714.05 488.70,711.40 C494.10,708.75 501.35,704.77 504.90,702.80 C508.45,700.83 507.93,700.98 510.00,699.60 C512.07,698.22 514.87,696.32 517.30,694.50 C519.73,692.68 522.17,690.88 524.60,688.70 C527.03,686.52 529.47,683.90 531.90,681.40 C534.33,678.90 536.77,676.50 539.20,673.70 C541.63,670.90 544.32,667.05 546.50,664.60 C548.68,662.15 550.38,660.35 552.30,659.00 C554.22,657.65 554.22,657.07 558.00,656.50 C561.78,655.93 570.00,655.68 575.00,655.60 C580.00,655.52 585.83,655.93 588.00,656.00" fill="none" stroke="#ffa500" stroke-width="2.3" stroke-linejoin="round" stroke-linecap="butt"/>
<path d="M312.30,796.00 L317.00,793.10" fill="none" stroke="#228b22" stroke-width="2.3" stroke-linejoin="round" stroke-linecap="butt"/>
<path d="M322.70,786.90 C323.58,786.00 326.17,783.25 328.00,781.50 C329.83,779.75 332.75,777.25 333.70,776.40" fill="none" stroke="#228b22" stroke-width="2.3" stroke-linejoin="round" stroke-linecap="butt"/>
<path d="M340.00,770.20 C340.83,769.33 343.18,766.62 345.00,765.00 C346.82,763.38 349.92,761.25 350.90,760.50" fill="none" stroke="#228b22" stroke-width="2.3" stroke-linejoin="round" stroke-linecap="butt"/>
<path d="M358.20,756.10 C359.33,755.83 362.62,755.08 365.00,754.50 C367.38,753.92 368.70,754.03 372.50,752.60 C376.30,751.17 382.93,747.95 387.80,745.90 C392.67,743.85 397.05,741.87 401.70,740.30 C406.35,738.73 411.05,737.88 415.70,736.50 C420.35,735.12 425.55,733.42 429.60,732.00 C433.65,730.58 435.57,729.95 440.00,728.00 C444.43,726.05 450.78,722.67 456.20,720.30 C461.62,717.93 467.08,715.97 472.50,713.80 C477.92,711.63 483.30,709.73 488.70,707.30 C494.10,704.87 501.35,701.20 504.90,699.20 C508.45,697.20 507.93,696.68 510.00,695.30 C512.07,693.92 514.87,692.48 517.30,690.90 C519.73,689.32 522.17,687.75 524.60,685.80 C527.03,683.85 529.47,681.52 531.90,679.20 C534.33,676.88 536.77,674.58 539.20,671.90 C541.63,669.22 544.32,665.42 546.50,663.10 C548.68,660.78 550.05,659.22 552.30,658.00 C554.55,656.78 557.38,656.20 560.00,655.80 C562.62,655.40 565.50,655.72 568.00,655.60 C570.50,655.48 572.67,655.10 575.00,655.10 C577.33,655.10 578.87,655.45 582.00,655.60 C585.13,655.75 591.83,655.93 593.80,656.00" fill="none" stroke="#228b22" stroke-width="2.3" stroke-linejoin="round" stroke-linecap="butt"/>
</g>
<rect x="129.6" y="53.5" width="488.10" height="267.70" fill="none" stroke="#000" stroke-width="2.2"/>
<rect x="305.8" y="447.2" width="312.00" height="136.80" fill="none" stroke="#000" stroke-width="2.2"/>
<rect x="305.6" y="641.7" width="312.20" height="185.20" fill="none" stroke="#000" stroke-width="2.2"/>
<text x="-1.20" y="22.50" font-size="30.5" text-anchor="start" fill="#000" >(a)</text>
<text x="213.60" y="434.20" font-size="30.5" text-anchor="start" fill="#000" >(b)</text>
<text x="213.60" y="643.80" font-size="30.5" text-anchor="start" fill="#000" >(c)</text>
<text x="374.00" y="386.30" font-size="23.7" text-anchor="middle" fill="#000" >Distance from the trench [km]</text>
<text transform="translate(56.9,187.7) rotate(-90)" font-size="23.7" text-anchor="middle">Vertical displacement rate [cm/year]</text>
<text transform="translate(239.3,515.5) rotate(-90)" font-size="23.7" text-anchor="middle">Depth [km]</text>
<text transform="translate(680.1,735) rotate(-90)" font-size="23.7" text-anchor="middle">Slip deficit rate [cm/year]</text>
<text transform="translate(490.5,463.4) rotate(2)" font-size="19.8" fill="#a52a2a">Surface</text>
<text transform="translate(545.5,503.3) rotate(-6.2)" font-size="19.8" fill="#0000ff">Asperity</text>
<text transform="translate(394.3,546.8) rotate(-16.5)" font-size="20.3" fill="#ff0000">Fault creep part</text>
<text transform="translate(316.8,527.5) rotate(-18)" font-size="19.8" fill="#ffa500">Shear</text>
<text transform="translate(327,541.2) rotate(-18)" font-size="19.8" fill="#ffa500">zone</text>
<rect x="10.8" y="532.3" width="175.2" height="210" fill="none" stroke="#6b6b6b" stroke-width="1.3"/>
<text x="106.00" y="558.80" font-size="25.8" text-anchor="middle" fill="#000" >Legend</text>
<text x="138.5" y="584" font-size="27" font-family="'Liberation Serif', serif" font-style="italic" text-anchor="middle">t</text>
<line x1="28.30" y1="602.30" x2="80.30" y2="602.30" stroke="#000096" stroke-width="2.2" />
<text x="181.80" y="609.90" font-size="22.2" text-anchor="end" fill="#000096" >10 year</text>
<line x1="28.30" y1="628.55" x2="80.30" y2="628.55" stroke="#ff00ff" stroke-width="2.2" />
<text x="181.80" y="636.15" font-size="22.2" text-anchor="end" fill="#ff00ff" >100 year</text>
<line x1="28.30" y1="654.80" x2="80.30" y2="654.80" stroke="#ff0000" stroke-width="2.2" />
<text x="181.80" y="662.40" font-size="22.2" text-anchor="end" fill="#ff0000" >200 year</text>
<line x1="28.30" y1="681.05" x2="80.30" y2="681.05" stroke="#ffa500" stroke-width="2.2" />
<text x="181.80" y="688.65" font-size="22.2" text-anchor="end" fill="#ffa500" >300 year</text>
<line x1="28.30" y1="707.30" x2="80.30" y2="707.30" stroke="#228b22" stroke-width="2.2" />
<text x="181.80" y="714.90" font-size="22.2" text-anchor="end" fill="#228b22" >400 year</text>
</svg></body></html>
